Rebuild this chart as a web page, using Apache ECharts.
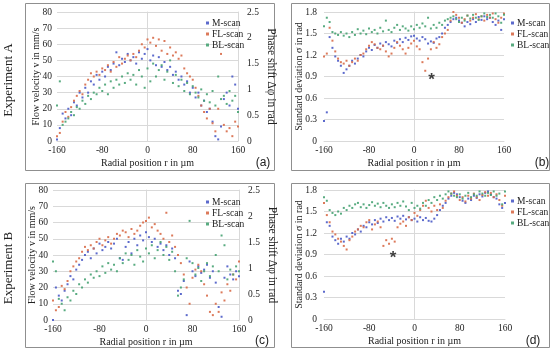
<!DOCTYPE html>
<html><head><meta charset="utf-8">
<script src="https://cdn.jsdelivr.net/npm/echarts@6/dist/echarts.min.js"></script>
<style>html,body{margin:0;padding:0;background:#fff}#c{width:550px;height:351px}</style>
</head><body><div id="c"></div>
<script>
// Radial positions (µm) shared by all scans
const radialPositions = [-160,-155,-150,-145,-140,-135,-130,-125,-120,-115,-110,-105,-100,-95,-90,-85,-80,-75,-70,-65,-60,-55,-50,-45,-40,-35,-30,-25,-20,-15,-10,-5,0,5,10,15,20,25,30,35,40,45,50,55,60,65,70,75,80,85,90,95,100,105,110,115,120,125,130,135,140,145,150,155,160];
const seriesNames = ['M-scan','FL-scan','BL-scan'];
const xTicks = [-160,-80,0,80,160];

// (a) Experiment A – flow velocity (mm/s)
const aMscan = [1,8,17,14,20,16,24,22,30,27,33,30,37,35,41,38,43,40,46,44,48,55,47,51,49,54,50,52,48,55,51,54,57,50,53,47,52,46,49,44,46,41,43,38,40,35,37,30,33,27,30,22,25,18,20,12,3,1,9,26,30,22,40,35,20];
const aFLscan = [3,5,12,18,15,21,25,28,31,29,35,38,42,40,43,41,45,44,47,43,49,46,52,48,51,53,50,54,52,56,60,58,63,61,64,59,63,56,62,54,58,53,55,51,53,45,42,40,38,33,28,22,18,14,20,11,6,20,54,10,6,8,3,12,9];
const aBLscan = [22,37,10,12,14,18,16,21,20,25,23,28,26,30,29,33,31,35,29,37,33,38,35,40,36,42,38,41,35,44,40,33,45,37,48,40,44,47,38,43,50,36,41,34,38,31,36,29,34,30,27,32,25,29,24,31,22,40,26,28,23,31,25,28,18];

// (b) Experiment A – standard deviation (rad)
const bMscan = [0.28,0.40,1.45,1.30,1.18,1.12,1.05,0.95,1.00,1.05,1.12,1.08,1.15,1.20,1.18,1.25,1.30,1.27,1.34,1.30,1.36,1.33,1.38,1.35,1.32,1.40,1.37,1.42,1.38,1.44,1.41,1.46,1.47,1.43,1.40,1.45,1.42,1.36,1.39,1.37,1.43,1.45,1.50,1.58,1.62,1.66,1.70,1.72,1.68,1.65,1.60,1.66,1.63,1.70,1.66,1.73,1.69,1.74,1.70,1.72,1.66,1.62,1.68,1.55,1.70];
const bFLscan = [1.18,1.22,1.58,1.40,1.25,1.15,1.10,1.08,1.12,1.05,1.10,1.15,1.12,1.20,1.22,1.28,1.33,1.38,1.35,1.30,1.28,1.33,1.25,1.18,1.22,1.30,1.38,1.33,1.28,1.22,1.30,1.36,1.40,1.32,1.28,1.10,0.98,1.15,1.28,1.38,1.30,1.35,1.45,1.50,1.55,1.68,1.80,1.76,1.72,1.65,1.70,1.75,1.68,1.72,1.77,1.70,1.74,1.68,1.76,1.72,1.78,1.70,1.65,1.72,1.78];
const bBLscan = [1.60,1.72,1.66,1.52,1.50,1.48,1.52,1.47,1.50,1.45,1.52,1.48,1.56,1.50,1.54,1.49,1.57,1.52,1.55,1.50,1.58,1.53,1.68,1.55,1.52,1.58,1.62,1.55,1.60,1.57,1.54,1.60,1.56,1.62,1.58,1.64,1.60,1.72,1.57,1.62,1.58,1.65,1.62,1.68,1.70,1.72,1.74,1.70,1.66,1.72,1.68,1.75,1.71,1.76,1.72,1.69,1.74,1.78,1.73,1.76,1.72,1.78,1.74,1.65,1.76];
const asteriskB = [31, 0.91];

// (c) Experiment B – flow velocity (mm/s)
const cMscan = [0,20,15,12,18,22,27,25,31,34,37,40,42,38,44,41,47,43,45,48,44,47,50,38,37,45,48,41,50,46,52,49,54,51,48,50,45,47,43,46,40,44,38,18,16,24,3,36,30,27,33,29,31,34,26,30,23,8,2,26,33,28,25,30,27];
const cFLscan = [12,6,8,21,19,24,30,33,36,38,42,45,43,46,44,48,50,46,49,51,47,50,53,52,55,54,51,56,53,55,58,60,61,63,57,59,55,53,50,66,48,52,45,40,35,28,20,10,26,31,34,30,22,15,5,3,10,5,17,12,22,18,28,25,36];
const cBLscan = [36,30,13,10,6,14,12,18,16,22,20,25,23,28,26,30,27,33,29,35,31,34,30,38,35,41,37,40,34,43,39,36,44,41,46,38,43,48,40,45,37,42,30,15,20,25,38,61,35,28,32,24,30,35,27,33,40,30,52,46,25,31,28,33,30];

// (d) Experiment B – standard deviation (rad)
const dMscan = [0.38,1.35,1.30,1.15,1.10,1.05,1.12,1.08,1.15,1.12,1.20,1.18,1.25,1.22,1.30,1.28,1.35,1.32,1.38,1.34,1.40,1.36,1.42,1.38,1.41,1.37,1.43,1.40,1.44,1.39,1.42,1.38,1.40,1.36,1.42,1.38,1.41,1.37,1.36,1.40,1.45,1.52,1.58,1.62,1.68,1.72,1.76,1.74,1.70,1.65,1.62,1.68,1.66,1.72,1.69,1.74,1.71,1.76,1.78,1.74,1.70,1.68,1.60,1.55,1.62];
const dFLscan = [1.62,1.45,1.35,1.22,1.18,1.12,1.08,1.02,0.97,1.10,1.15,1.22,1.25,1.30,1.28,1.35,1.38,1.25,1.32,1.36,1.28,1.02,1.10,1.05,1.12,1.08,1.28,1.33,1.36,1.30,1.42,1.38,1.48,1.44,1.52,1.58,1.65,1.55,1.50,1.58,1.52,1.60,1.55,1.65,1.70,1.75,1.78,1.72,1.66,1.70,1.64,1.72,1.68,1.75,1.70,1.66,1.73,1.77,1.72,1.76,1.70,1.74,1.66,1.58,1.72];
const dBLscan = [1.70,1.65,1.52,1.48,1.45,1.50,1.47,1.55,1.52,1.58,1.55,1.60,1.62,1.56,1.60,1.55,1.59,1.63,1.58,1.61,1.56,1.62,1.58,1.55,1.60,1.56,1.62,1.58,1.64,1.57,1.52,1.62,1.55,1.58,1.54,1.62,1.58,1.66,1.62,1.70,1.66,1.72,1.68,1.74,1.78,1.75,1.72,1.70,1.74,1.68,1.72,1.76,1.70,1.74,1.72,1.78,1.75,1.72,1.76,1.73,1.78,1.72,1.75,1.60,1.78];
const asteriskD = [-38, 0.92];

const SERIF = '"Liberation Serif","Times New Roman",serif';
const SANS = '"Liberation Sans",Arial,sans-serif';
const colors = ['#4a5ac6', '#d86a48', '#46a272'];
const GRID_C = '#d9d9d9';
const TXT = '#222';

function pts(vals){ return radialPositions.map((r,i)=>[r, vals[i]]); }
function fmt(v){ return String(+v.toFixed(1)); }

const grids = [
  {left:57, top:12, width:181, height:129},
  {left:324, top:12, width:180, height:129},
  {left:53, top:190, width:186, height:130},
  {left:324, top:190, width:181, height:129}
].map(g => Object.assign({outerBoundsMode:'none', containLabel:false}, g));

const xAxis = grids.map((g,i)=>({
  type:'value', gridIndex:i, min:-160, max:160, interval:80,
  name:'Radial position r in µm', nameLocation:'middle', nameGap:17,
  nameTextStyle:{fontFamily:SERIF, fontSize:10, color:TXT},
  axisLabel:{fontFamily:SERIF, fontSize:9.5, color:TXT, margin:4},
  axisLine:{show:true, lineStyle:{color:GRID_C}},
  axisTick:{show:false}, splitLine:{show:false}
}));

function velAxis(gi){
  return {type:'value', gridIndex:gi, position:'left', min:0, max:80, interval:10,
    name:'Flow velocity v in mm/s', nameLocation:'middle', nameGap:16, nameRotate:90, nameMoveOverlap:false,
    nameTextStyle:{fontFamily:SERIF, fontSize:10, color:TXT},
    axisLabel:{fontFamily:SERIF, fontSize:9.5, color:TXT, margin:5},
    axisLine:{show:true, lineStyle:{color:GRID_C}}, axisTick:{show:false},
    splitLine:{show:true, lineStyle:{color:GRID_C}}};
}
function phaseAxis(gi){
  return {type:'value', gridIndex:gi, position:'right', min:0, max:2.5, interval:0.5,
    name:'Phase shift Δφ in rad', nameLocation:'middle', nameGap:27, nameRotate:-90,
    nameTextStyle:{fontFamily:SERIF, fontSize:11.5, color:TXT},
    axisLabel:{fontFamily:SERIF, fontSize:9.5, color:TXT, margin:9, formatter:fmt},
    axisLine:{show:true, lineStyle:{color:GRID_C}}, axisTick:{show:false},
    splitLine:{show:false}};
}
function sdAxis(gi){
  return {type:'value', gridIndex:gi, position:'left', min:0, max:1.8, interval:0.3,
    name:'Standard deviation σ in rad', nameLocation:'middle', nameGap:20, nameRotate:90, nameMoveOverlap:false,
    nameTextStyle:{fontFamily:SERIF, fontSize:10, color:TXT},
    axisLabel:{fontFamily:SERIF, fontSize:9.5, color:TXT, margin:7, formatter:fmt},
    axisLine:{show:true, lineStyle:{color:GRID_C}}, axisTick:{show:false},
    splitLine:{show:true, lineStyle:{color:GRID_C}}};
}
const yAxis = [velAxis(0), phaseAxis(0), sdAxis(1), velAxis(2), phaseAxis(2), sdAxis(3)];

const panelData = [
  {xi:0, yi:0, sets:[aMscan,aFLscan,aBLscan]},
  {xi:1, yi:2, sets:[bMscan,bFLscan,bBLscan]},
  {xi:2, yi:3, sets:[cMscan,cFLscan,cBLscan]},
  {xi:3, yi:5, sets:[dMscan,dFLscan,dBLscan]}
];
const series = [];
panelData.forEach(p=>{
  p.sets.forEach((vals,k)=>{
    series.push({type:'scatter', name:seriesNames[k], xAxisIndex:p.xi, yAxisIndex:p.yi,
      data:pts(vals), symbol:'rect', symbolSize:2, silent:true,
      itemStyle:{color:colors[k], opacity:0.9}});
  });
});
[[1,2,asteriskB],[3,5,asteriskD]].forEach(([xi,yi,pt])=>{
  series.push({type:'scatter', name:'asterisk', xAxisIndex:xi, yAxisIndex:yi, data:[pt],
    symbolSize:1, itemStyle:{color:'rgba(0,0,0,0)'}, silent:true,
    label:{show:true, position:'inside', formatter:'*', fontFamily:SANS, fontSize:17, fontWeight:'bold', color:'#111', offset:[0,5]}});
});

function legendAt(left, top){
  return {orient:'vertical', left:left, top:top, itemWidth:3, itemHeight:3, itemGap:1,
    selectedMode:false, icon:'rect', data:seriesNames,
    textStyle:{fontFamily:SERIF, fontSize:9.5, color:TXT, padding:[0,0,0,-2]}};
}
const legend = [legendAt(201,13), legendAt(506,13), legendAt(201,192), legendAt(506,191)];

const BORDER = '#8f8f8f';
function box(x,y,w,h){ return {type:'rect', shape:{x:x+0.5,y:y+0.5,width:w,height:h}, style:{fill:null, stroke:BORDER, lineWidth:1}, silent:true}; }
const graphic = [
  box(25,3,249,167), box(291,3,258,167), box(25,183,249,164), box(291,183,258,164),
  {type:'text', x:9, y:80, rotation:Math.PI/2, silent:true, style:{text:'Experiment A', fill:TXT, font:'13px '+SERIF, align:'center', verticalAlign:'middle'}},
  {type:'text', x:9, y:268, rotation:Math.PI/2, silent:true, style:{text:'Experiment B', fill:TXT, font:'13px '+SERIF, align:'center', verticalAlign:'middle'}},
  {type:'text', x:263, y:163, silent:true, style:{text:'(a)', fill:TXT, font:'12px '+SANS, align:'center', verticalAlign:'middle'}},
  {type:'text', x:542, y:163, silent:true, style:{text:'(b)', fill:TXT, font:'12px '+SANS, align:'center', verticalAlign:'middle'}},
  {type:'text', x:262, y:341, silent:true, style:{text:'(c)', fill:TXT, font:'12px '+SANS, align:'center', verticalAlign:'middle'}},
  {type:'text', x:533, y:341, silent:true, style:{text:'(d)', fill:TXT, font:'12px '+SANS, align:'center', verticalAlign:'middle'}}
];

const chart = echarts.init(document.getElementById('c'), null, {renderer:'canvas'});
chart.setOption({animation:false, backgroundColor:'#fff', grid:grids, xAxis:xAxis, yAxis:yAxis, series:series, legend:legend, graphic:graphic});
</script>
</body></html>
